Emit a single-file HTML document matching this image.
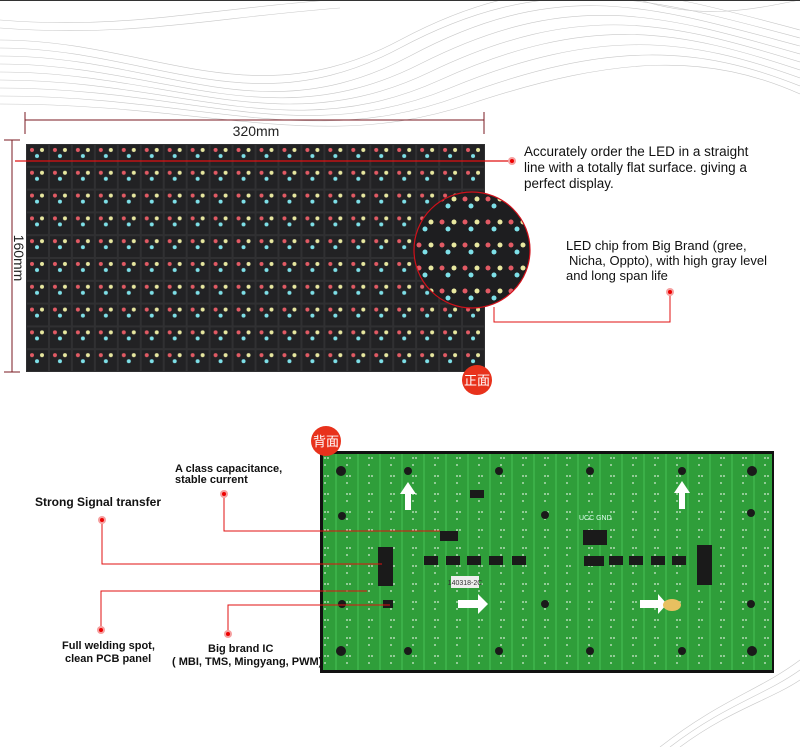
<!DOCTYPE html>
<html><head><meta charset="utf-8"><style>
body{margin:0;background:#fff;}
svg{display:block}
text{font-family:"Liberation Sans","Noto Sans CJK SC",sans-serif}
</style></head><body>
<svg width="800" height="747" viewBox="0 0 800 747" xmlns="http://www.w3.org/2000/svg">
<defs>
<pattern id="led" x="26" y="144" width="22.95" height="22.8" patternUnits="userSpaceOnUse">
<rect width="22.95" height="22.8" fill="#303032"/>
<rect x="1" y="1" width="21" height="20.8" fill="#222224"/>
<circle cx="6" cy="6" r="2" fill="#e25a64"/>
<circle cx="16" cy="6" r="2" fill="#e8e8a0"/>
<circle cx="11" cy="12" r="2" fill="#7ee0e8"/>
</pattern>
<pattern id="ledbig" x="414" y="192" width="23" height="23" patternUnits="userSpaceOnUse">
<rect width="23" height="23" fill="#1e1e20"/>
<circle cx="5" cy="7" r="2.5" fill="#e25a64"/>
<circle cx="17" cy="7" r="2.5" fill="#e8e8a0"/>
<circle cx="11" cy="14" r="2.5" fill="#7ee0e8"/>
</pattern>
<pattern id="pcb" x="321" y="452" width="22" height="18" patternUnits="userSpaceOnUse">
<rect width="22" height="18" fill="#2f9e3a"/>
<rect x="14" y="0" width="2" height="18" fill="#3bb048"/>
<circle cx="4" cy="6" r="0.9" fill="#d8ecd8"/>
<circle cx="7" cy="6" r="0.9" fill="#d8ecd8"/>
<circle cx="4" cy="13" r="0.9" fill="#d8ecd8"/>
</pattern>
<clipPath id="cc"><circle cx="472" cy="250" r="58"/></clipPath>
</defs>
<g fill="none" stroke="#c8c8c8" stroke-width="0.6">
<path d="M0 40 C150 40 250 120 400 40 S650 -10 800 30"/>
<path d="M0 48 C150 48 250 128 400 48 S650 -2 800 38"/>
<path d="M0 56 C160 56 260 136 410 56 S650 6 800 46"/>
<path d="M0 64 C160 64 270 140 420 64 S660 14 800 54"/>
<path d="M0 72 C170 72 280 144 430 72 S670 22 800 62"/>
<path d="M0 80 C180 80 290 148 440 80 S680 30 800 70"/>
<path d="M0 88 C190 88 300 150 450 88 S690 38 800 78"/>
<path d="M0 96 C200 96 310 152 460 96 S700 46 800 86"/>
<path d="M0 104 C210 104 320 154 470 104 S710 54 800 94"/>
<path d="M0 20 C120 30 200 10 330 0"/>
<path d="M0 28 C130 38 210 18 340 8"/>
<path d="M640 0 C700 20 750 10 800 0"/>
<path d="M660 747 C720 700 760 690 800 660"/>
<path d="M670 747 C725 705 765 695 800 670"/>
<path d="M680 747 C730 710 770 700 800 680"/>
</g>
<line x1="0" y1="0.5" x2="800" y2="0.5" stroke="#333"/>
<rect x="26" y="144" width="459" height="228" fill="url(#led)"/>
<g stroke="#7a1a22" stroke-width="1">
<line x1="25" y1="120" x2="484" y2="120"/><line x1="25" y1="112" x2="25" y2="134"/><line x1="484" y1="112" x2="484" y2="134"/>
<line x1="12" y1="140" x2="12" y2="372"/><line x1="4" y1="140" x2="20" y2="140"/><line x1="4" y1="372" x2="20" y2="372"/>
</g>
<text x="256" y="136" font-size="14" text-anchor="middle" fill="#222">320mm</text>
<text transform="translate(14,258) rotate(90)" font-size="14" text-anchor="middle" fill="#222">160mm</text>
<g clip-path="url(#cc)"><rect x="410" y="190" width="130" height="120" fill="url(#ledbig)"/></g>
<circle cx="472" cy="250" r="58" fill="none" stroke="#d0101a" stroke-width="1.2"/>
<line x1="15" y1="161" x2="510" y2="161" stroke="#e01010" stroke-width="1.2"/>
<circle cx="512" cy="161" r="4" fill="#f5a0a0"/><circle cx="512" cy="161" r="2" fill="#e00"/>
<polyline points="494,307 494,322 670,322 670,294" fill="none" stroke="#e01010" stroke-width="1"/>
<circle cx="670" cy="292" r="4" fill="#f5a0a0"/><circle cx="670" cy="292" r="2" fill="#e00"/>
<circle cx="477" cy="380" r="15" fill="#e8321c"/>
<text x="477" y="385" font-size="13" text-anchor="middle" fill="#fff">正面</text>
<text font-size="13.5" fill="#111"><tspan x="524" y="156">Accurately order the LED in a straight</tspan><tspan x="524" y="172">line with a totally flat surface. giving a</tspan><tspan x="524" y="188">perfect display.</tspan></text>
<text font-size="13" fill="#111"><tspan x="566" y="250">LED chip from Big Brand (gree,</tspan><tspan x="569" y="265">Nicha, Oppto), with high gray level</tspan><tspan x="566" y="280">and long span life</tspan></text>
<rect x="320" y="451" width="454" height="222" fill="#111"/>
<rect x="323" y="454" width="449" height="216" fill="url(#pcb)"/>
<g fill="#1a1a1a">
<circle cx="341" cy="471" r="5"/><circle cx="752" cy="471" r="5"/><circle cx="341" cy="651" r="5"/><circle cx="752" cy="651" r="5"/>
<circle cx="408" cy="471" r="4"/><circle cx="499" cy="471" r="4"/><circle cx="590" cy="471" r="4"/><circle cx="682" cy="471" r="4"/>
<circle cx="408" cy="651" r="4"/><circle cx="499" cy="651" r="4"/><circle cx="590" cy="651" r="4"/><circle cx="682" cy="651" r="4"/>
<circle cx="342" cy="516" r="4"/><circle cx="751" cy="513" r="4"/><circle cx="342" cy="604" r="4"/><circle cx="751" cy="604" r="4"/>
<circle cx="545" cy="515" r="4"/><circle cx="545" cy="604" r="4"/>
<rect x="378" y="547" width="15" height="39"/><rect x="697" y="545" width="15" height="40"/>
<rect x="424" y="556" width="14" height="9"/><rect x="446" y="556" width="14" height="9"/><rect x="467" y="556" width="14" height="9"/><rect x="489" y="556" width="14" height="9"/><rect x="512" y="556" width="14" height="9"/>
<rect x="609" y="556" width="14" height="9"/><rect x="629" y="556" width="14" height="9"/><rect x="651" y="556" width="14" height="9"/><rect x="672" y="556" width="14" height="9"/>
<rect x="470" y="490" width="14" height="8"/><rect x="383" y="600" width="10" height="8"/>
<rect x="583" y="530" width="24" height="15"/>
<rect x="440" y="531" width="18" height="10"/><rect x="584" y="556" width="20" height="10"/>
</g>
<rect x="451" y="576" width="28" height="12" fill="#eee"/><text x="465" y="585" font-size="7" text-anchor="middle" fill="#333">140318-2C</text>
<text x="579" y="520" font-size="7" fill="#dfe">UCC GND</text>
<g fill="#fff">
<polygon points="408,482 400,494 405,494 405,510 411,510 411,494 416,494"/>
<polygon points="682,481 674,493 679,493 679,509 685,509 685,493 690,493"/>
<polygon points="458,600 478,600 478,594 488,604 478,614 478,608 458,608"/>
<polygon points="640,600 658,600 658,594 667,604 658,614 658,608 640,608"/>
</g>
<ellipse cx="672" cy="605" rx="9" ry="6" fill="#e8c060"/>
<circle cx="326" cy="441" r="15" fill="#e8321c"/>
<text x="326" y="446" font-size="13" text-anchor="middle" fill="#fff">背面</text>
<g fill="none" stroke="#e01010" stroke-width="1">
<polyline points="224,496 224,531 440,531"/>
<polyline points="102,522 102,564 382,564"/>
<polyline points="101,628 101,591 367,591"/>
<polyline points="228,632 228,605 390,605"/>
</g>
<g><circle cx="224" cy="494" r="4" fill="#f5a0a0"/><circle cx="224" cy="494" r="2" fill="#e00"/>
<circle cx="102" cy="520" r="4" fill="#f5a0a0"/><circle cx="102" cy="520" r="2" fill="#e00"/>
<circle cx="101" cy="630" r="4" fill="#f5a0a0"/><circle cx="101" cy="630" r="2" fill="#e00"/>
<circle cx="228" cy="634" r="4" fill="#f5a0a0"/><circle cx="228" cy="634" r="2" fill="#e00"/></g>
<g font-size="11" fill="#111" font-weight="bold">
<text x="175" y="472">A class capacitance,</text><text x="175" y="483">stable current</text>
<text x="35" y="506" font-size="12">Strong Signal transfer</text>
<text x="62" y="649">Full welding spot,</text><text x="65" y="662">clean PCB panel</text>
<text x="208" y="652">Big brand IC</text><text x="172" y="665">( MBI, TMS, Mingyang,  PWM)</text>
</g>
</svg>
</body></html>
